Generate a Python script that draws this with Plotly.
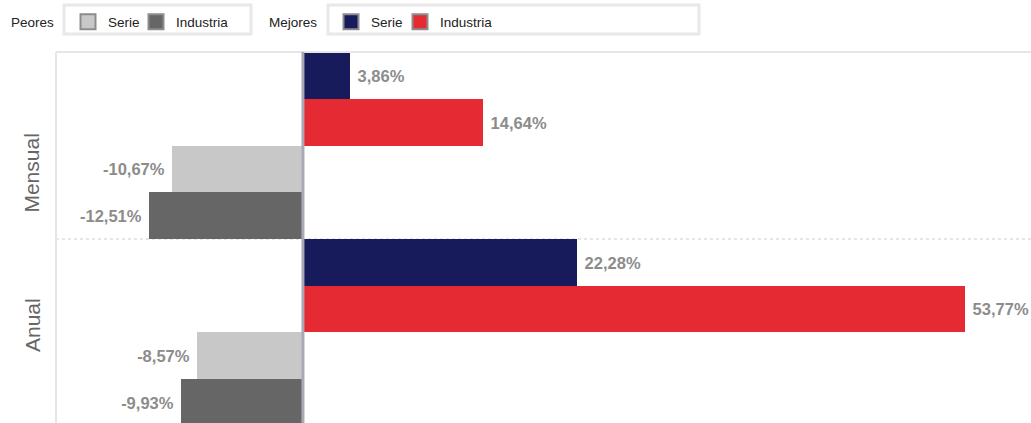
import plotly.graph_objects as go

categories = ["Mensual", "Anual"]
mejores_serie = [3.86, 22.28]
mejores_industria = [14.64, 53.77]
peores_serie = [-10.67, -8.57]
peores_industria = [-12.51, -9.93]

NAVY = "#171a5b"
RED = "#e52a33"
LIGHT = "#c8c8c8"
DARK = "#666666"
LABEL = "#8c8c8c"
FONT = "Liberation Sans, Arial, sans-serif"

W, H = 1031, 423
ML, MT, MR, MB = 56, 52, 0, 0
PW, PH = W - ML - MR, H - MT - MB


def px_x(p):
    return (p - ML) / PW


def px_y(p):
    return (H - MB - p) / PH


def fmt(v):
    s = f"{v:.2f}".replace(".", ",") + "%"
    return ("\u00a0" + s) if v >= 0 else (s + "\u00a0")


ypos = list(range(len(categories)))

fig = go.Figure()
series = [
    ("Serie", mejores_serie, NAVY),
    ("Industria", mejores_industria, RED),
    ("Serie", peores_serie, LIGHT),
    ("Industria", peores_industria, DARK),
]
for name, vals, col in series:
    fig.add_trace(go.Bar(
        y=ypos, x=vals, orientation="h", name=name,
        marker=dict(color=col, line=dict(width=0)),
        text=[fmt(v) for v in vals], textposition="outside",
        textfont=dict(family=FONT, size=16.5, color=LABEL, weight="bold"),
        cliponaxis=False, showlegend=False, hoverinfo="skip",
    ))

# legend entries (one legend per entry so each can be placed)
legend_items = [("Serie", LIGHT, "legend", 68), ("Industria", DARK, "legend2", 136),
                ("Serie", NAVY, "legend3", 331), ("Industria", RED, "legend4", 400)]
for name, col, lg, _ in legend_items:
    fig.add_trace(go.Scatter(
        x=[None], y=[None], mode="markers", name=name, legend=lg,
        marker=dict(symbol="square", size=15, color=col,
                    line=dict(color="#8c8c8c", width=2)),
        showlegend=True,
    ))

leg_common = dict(orientation="h", yanchor="middle", xanchor="left",
                  bgcolor="rgba(0,0,0,0)", borderwidth=0,
                  font=dict(family=FONT, size=13.5, color="#222222"))
legends = {lg: dict(x=px_x(xl), y=px_y(22), **leg_common)
           for _, _, lg, xl in legend_items}

shapes = [
    dict(type="rect", xref="paper", yref="paper", x0=px_x(64), x1=px_x(251),
         y0=px_y(34), y1=px_y(5), line=dict(color="#e8e8e8", width=3)),
    dict(type="rect", xref="paper", yref="paper", x0=px_x(328), x1=px_x(699),
         y0=px_y(34), y1=px_y(5), line=dict(color="#e8e8e8", width=3)),
    # plot frame top and left
    dict(type="line", xref="paper", yref="paper", x0=0, x1=1, y0=1, y1=1,
         line=dict(color="#e6e6e6", width=2)),
    dict(type="line", xref="paper", yref="paper", x0=0, x1=0, y0=0, y1=1,
         line=dict(color="#e6e6e6", width=2)),
    # category separator
    dict(type="line", xref="paper", yref="y", x0=0, x1=1, y0=0.5, y1=0.5,
         line=dict(color="#cccccc", width=1, dash="dot"), layer="below"),
    # zero line
    dict(type="line", xref="x", yref="paper", x0=0, x1=0, y0=0, y1=1,
         line=dict(color="#a9a9b4", width=3), layer="above"),
]

annotations = [
    dict(text="Peores", xref="paper", yref="paper", x=px_x(9), y=px_y(22.5),
         xanchor="left", yanchor="middle", showarrow=False,
         font=dict(family=FONT, size=13.5, color="#222222")),
    dict(text="Mejores", xref="paper", yref="paper", x=px_x(267), y=px_y(22.5),
         xanchor="left", yanchor="middle", showarrow=False,
         font=dict(family=FONT, size=13.5, color="#222222")),
]
label_y = [0.15, 0.96]
for cat, yy in zip(categories, label_y):
    annotations.append(dict(text=cat, xref="paper", yref="y", x=px_x(32), y=yy,
                            xanchor="center", yanchor="middle", textangle=-90,
                            showarrow=False,
                            font=dict(family=FONT, size=21, color="#666666")))

fig.update_layout(
    width=W, height=H,
    margin=dict(l=ML, r=MR, t=MT, b=MB, pad=0),
    paper_bgcolor="white", plot_bgcolor="white",
    barmode="group", bargap=0, bargroupgap=0,
    xaxis=dict(range=[-20.06, 59.14], showgrid=False, zeroline=False,
               showticklabels=False, ticks="", showline=False, fixedrange=True),
    yaxis=dict(range=[1.484, -0.5], showgrid=False, zeroline=False,
               showticklabels=False, ticks="", showline=False, fixedrange=True),
    shapes=shapes, annotations=annotations,
    uniformtext=dict(mode=False),
    **legends,
)

fig.write_html("out.html", config={"displayModeBar": False},
               post_script="document.body.style.margin='0';document.body.style.overflow='hidden';")
